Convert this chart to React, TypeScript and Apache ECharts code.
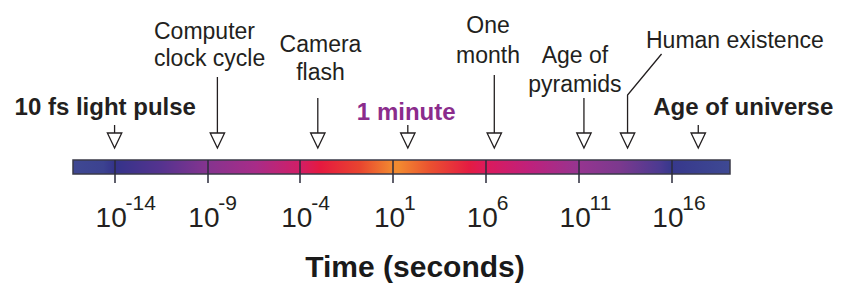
import React, { useEffect, useRef } from 'react';
import * as echarts from 'echarts';

// ---- data ----
const axisMinExp = -16.24;
const axisMaxExp = 19.16;
const tickExponents = [-14, -9, -4, 1, 6, 11, 16];
const eventLabels = [
  '10 fs light pulse',
  'Computer\nclock cycle',
  'Camera\nflash',
  '1 minute',
  'One\nmonth',
  'Age of\npyramids',
  'Human existence',
  'Age of universe',
];
const eventLog10Seconds = [-14, -8.46, -3.05, 1.8, 6.46, 11.29, 13.64, 17.45];
const axisTitle = 'Time (seconds)';

// gradient of the bar, by exponent
const gradientExponents = [-16.24, -14.6, -14, -11.5, -9, -6.4, -4, -2.9, -0.8, 1, 1.3, 3, 5.1, 6, 8.4, 11, 13.2, 15.4, 16, 19.16];
const gradientColors = ['#3f4892', '#3c4290', '#34338a', '#55338f', '#85348f', '#a82c88', '#d21e66', '#e6193f', '#e9442f', '#f28a30', '#f28a30', '#ea5130', '#e41c42', '#dc1a5c', '#be217c', '#963590', '#7c398e', '#4b3a91', '#37388c', '#3e4993'];

// ---- layout / style ----
const INK = '#231f20';
const PURPLE = '#8b2c8c';
const FONT = '"Liberation Sans", Arial, Helvetica, sans-serif';

type Layout = {
  dx: number; align: 'center' | 'left'; lines: number[]; stem: number;
  bold: boolean; color: string; size: number; leader?: number[][];
};
const eventLayouts: Layout[] = [
  { dx: -9.3, align: 'center', lines: [45], stem: 35, bold: true, color: INK, size: 24 },
  { dx: -63.4, align: 'left', lines: [121, 94], stem: 83, bold: false, color: INK, size: 23 },
  { dx: 2.7, align: 'center', lines: [108, 80], stem: 62, bold: false, color: INK, size: 23 },
  { dx: -1.6, align: 'center', lines: [40], stem: 35, bold: true, color: PURPLE, size: 24 },
  { dx: -6.3, align: 'center', lines: [126.7, 96.7], stem: 85, bold: false, color: INK, size: 23 },
  { dx: -9, align: 'center', lines: [96.7, 68.3], stem: 62, bold: false, color: INK, size: 23 },
  { dx: 107.3, align: 'center', lines: [112], stem: 65, bold: false, color: INK, size: 23, leader: [[34, 106], [0, 65]] },
  { dx: 45, align: 'center', lines: [45], stem: 35, bold: true, color: INK, size: 24 },
];
const TRI_TOP = 27;
const TRI_BOTTOM = 12;
const TRI_HALF = 7.2;

export default function App() {
  const ref = useRef<HTMLDivElement>(null);
  useEffect(() => {
    if (!ref.current) return;
    const chart = echarts.init(ref.current, null, { renderer: 'svg' });
    const span = axisMaxExp - axisMinExp;
    const stops = gradientExponents.map((e, i) => ({ offset: (e - axisMinExp) / span, color: gradientColors[i] }));

    const option: any = {
      animation: false,
      grid: { left: 73, width: 657, top: 160, height: 14, containLabel: false },
      xAxis: {
        type: 'value',
        min: axisMinExp,
        max: axisMaxExp,
        position: 'top',
        z: 10,
        axisLine: { show: false, onZero: false },
        splitLine: { show: false },
        axisTick: {
          show: true, inside: true, length: 23, customValues: tickExponents,
          lineStyle: { color: '#2b2b3b', width: 1.5 },
        },
        axisLabel: {
          inside: true,
          margin: 32,
          customValues: tickExponents,
          formatter: (v: number) => `{sp| }{b|10}{s|${v}}`,
          rich: {
            sp: { width: 26, align: 'left', fontSize: 28, lineHeight: 51, fontFamily: FONT },
            b: { width: 30, align: 'left', fontSize: 28, lineHeight: 51, fontFamily: FONT, color: INK },
            s: { width: 34, align: 'left', fontSize: 21, lineHeight: 21, verticalAlign: 'top', fontFamily: FONT, color: INK },
          },
        },
      },
      yAxis: { type: 'value', min: 0, max: 1, show: false },
      graphic: [
        {
          type: 'text', x: 415, y: 277 - 0.3465 * 30,
          style: { text: axisTitle, fontSize: 30, fontWeight: 'bold', fontFamily: FONT, fill: '#1a1a1a', align: 'center', verticalAlign: 'middle' },
        },
      ],
      series: [
        {
          type: 'custom',
          z: 1,
          data: [[axisMinExp, axisMaxExp]],
          renderItem: (params: any, api: any) => {
            const p0 = api.coord([api.value(0), 1]);
            const p1 = api.coord([api.value(1), 0]);
            return {
              type: 'rect',
              shape: { x: p0[0], y: p0[1], width: p1[0] - p0[0], height: p1[1] - p0[1] },
              style: {
                fill: new echarts.graphic.LinearGradient(0, 0, 1, 0, stops),
                stroke: '#3a3a48', lineWidth: 1.5,
              },
            };
          },
        },
        {
          type: 'custom',
          z: 5,
          data: eventLog10Seconds.map((v) => [v, 1]),
          renderItem: (params: any, api: any) => {
            const i = params.dataIndex;
            const L = eventLayouts[i];
            const p = api.coord([api.value(0), 1]);
            const x = p[0];
            const top = p[1];
            const children: any[] = [];
            const triTop = top - TRI_TOP;
            if (L.leader) {
              const pts = [[x + L.leader[0][0], top - L.leader[0][1]], [x + L.leader[1][0], top - L.leader[1][1]], [x, triTop]];
              children.push({ type: 'polyline', shape: { points: pts }, style: { stroke: INK, lineWidth: 1.3, fill: null } });
            } else {
              children.push({ type: 'line', shape: { x1: x, y1: top - L.stem, x2: x, y2: triTop }, style: { stroke: INK, lineWidth: 1.3 } });
            }
            children.push({
              type: 'polygon',
              shape: { points: [[x - TRI_HALF, triTop], [x + TRI_HALF, triTop], [x, top - TRI_BOTTOM]] },
              style: { fill: '#ffffff', stroke: INK, lineWidth: 1.3 },
            });
            const lines = eventLabels[i].split('\n');
            lines.forEach((t, k) => {
              const baseline = top - L.lines[k];
              children.push({
                type: 'text',
                x: x + L.dx,
                y: baseline - 0.3465 * L.size,
                style: {
                  text: t, fontSize: L.size, fontWeight: L.bold ? 'bold' : 'normal', fontFamily: FONT,
                  fill: L.color, align: L.align, verticalAlign: 'middle',
                },
              });
            });
            return { type: 'group', children };
          },
        },
      ],
    };
    chart.setOption(option);
    return () => chart.dispose();
  }, []);
  return <div ref={ref} style={{ position: 'fixed', left: 0, top: 0, width: 851, height: 284, background: '#fff' }} />;
}
